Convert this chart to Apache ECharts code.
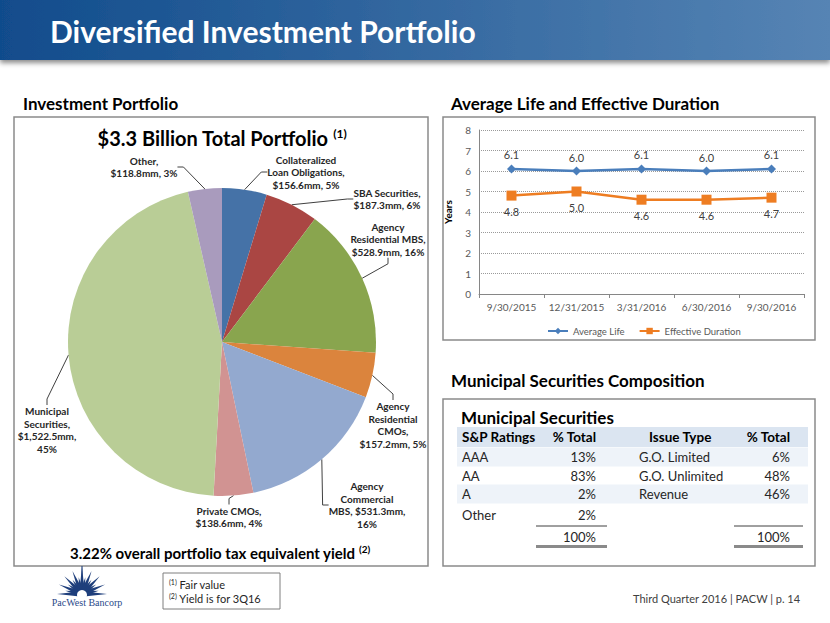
<!DOCTYPE html>
<html><head><meta charset="utf-8">
<script src="https://cdn.jsdelivr.net/npm/echarts@6/dist/echarts.min.js"></script>
<style>html,body{margin:0;padding:0;background:#fff}#c{width:830px;height:623px}</style>
</head><body><div id="c"></div>
<script>
// ---------- data ----------
const pieNames = ['Collateralized Loan Obligations', 'SBA Securities', 'Agency Residential MBS', 'Agency Residential CMOs', 'Agency Commercial MBS', 'Private CMOs', 'Municipal Securities', 'Other'];
const pieValues = [156.6, 187.3, 528.9, 157.2, 531.3, 138.6, 1522.5, 118.8];
const piePct = [5, 6, 16, 5, 16, 4, 45, 3];
const pieLabelTemplates = [
  'Collateralized\nLoan Obligations,\n{v}, {p}',
  'SBA Securities,\n{v}, {p}',
  'Agency\nResidential MBS,\n{v}, {p}',
  'Agency\nResidential\nCMOs,\n{v}, {p}',
  'Agency\nCommercial\nMBS, {v},\n{p}',
  'Private CMOs,\n{v}, {p}',
  'Municipal\nSecurities,\n{v},\n{p}',
  'Other,\n{v}, {p}'
];
const dates = ['9/30/2015', '12/31/2015', '3/31/2016', '6/30/2016', '9/30/2016'];
const averageLife = [6.1, 6.0, 6.1, 6.0, 6.1];
const effectiveDuration = [4.8, 5.0, 4.6, 4.6, 4.7];
const ratings = ['AAA', 'AA', 'A', 'Other'];
const ratingPct = [13, 83, 2, 2];
const issueTypes = ['G.O. Limited', 'G.O. Unlimited', 'Revenue'];
const issuePct = [6, 48, 46];

// ---------- styles ----------
const FONT = 'Lato, "Open Sans", sans-serif';
const pieColors = ['#4572a7', '#aa4643', '#89a54e', '#db843d', '#93a9cf', '#d19392', '#b9cd96', '#a99bbd'];
// label anchor (centre) positions for the pie labels
const pieLabelPos = [[306, 172], [387, 199], [388, 239], [393, 425], [367, 505], [229, 517], [47, 430], [144, 167]];

function fmtMoney(v) {
  return '$' + v.toLocaleString('en-US', {minimumFractionDigits: 1, maximumFractionDigits: 1}) + 'mm';
}

const g = [];
// title bar
g.push({type: 'rect', shape: {x: 0, y: 0, width: 830, height: 60},
  style: {fill: new echarts.graphic.LinearGradient(0, 0, 1, 0, [{offset: 0, color: '#114c8c'}, {offset: 1, color: '#5684b4'}]),
    shadowBlur: 5, shadowColor: 'rgba(0,0,0,0.45)', shadowOffsetY: 3}, z: 1});
g.push({type: 'text', x: 50, y: 31, z: 2, style: {text: 'Diversified Investment Portfolio', fill: '#fff', font: 'bold 30px ' + FONT, verticalAlign: 'middle'}});
// headings
[['Investment Portfolio', 23, 103], ['Average Life and Effective Duration', 451, 103], ['Municipal Securities Composition', 451, 380]].forEach(h => {
  g.push({type: 'text', x: h[1], y: h[2], style: {text: h[0], fill: '#000', font: 'bold 17px ' + FONT, verticalAlign: 'middle'}});
});
// boxes
[[14, 117, 414, 449], [443, 117, 372, 223], [443, 399, 372, 167]].forEach(b => {
  g.push({type: 'rect', shape: {x: b[0], y: b[1], width: b[2], height: b[3]}, style: {fill: 'none', stroke: '#8a8a8a', lineWidth: 1.5}, z: 0});
});
// pie title
g.push({type: 'text', x: 222, y: 138, style: {
  text: '{t|$3.3 Billion Total Portfolio }{s|(1)}', align: 'center', verticalAlign: 'middle',
  rich: {t: {font: 'bold 20px ' + FONT, fill: '#000'}, s: {font: 'bold 12px ' + FONT, fill: '#000', padding: [0, 0, 10, 0]}}}});
// yield text
g.push({type: 'text', x: 220, y: 553, style: {
  text: '{t|3.22% overall portfolio tax equivalent yield }{s|(2)}', align: 'center', verticalAlign: 'middle',
  rich: {t: {font: 'bold 15px ' + FONT, fill: '#000'}, s: {font: 'bold 10px ' + FONT, fill: '#000', padding: [0, 0, 8, 0]}}}});
// footnotes
g.push({type: 'rect', shape: {x: 163, y: 573, width: 117, height: 36}, style: {fill: 'none', stroke: '#7f7f7f', lineWidth: 1}});
[['(1)', ' Fair value', 584], ['(2)', ' Yield is for 3Q16', 598]].forEach(f => {
  g.push({type: 'text', x: 169, y: f[2], style: {text: '{s|' + f[0] + '}{t|' + f[1] + '}', verticalAlign: 'middle',
    rich: {t: {font: '11px ' + FONT, fill: '#262626'}, s: {font: '7px ' + FONT, fill: '#262626', padding: [0, 0, 5, 0]}}}});
});
// footer
g.push({type: 'text', x: 633, y: 598, style: {text: 'Third Quarter 2016 | PACW | p. 14', fill: '#404040', font: '11px ' + FONT, verticalAlign: 'middle'}});
// logo starburst
(function () {
  const cx = 82, cy = 594;
  for (let i = 0; i <= 16; i++) {
    const a = Math.PI + i * Math.PI / 16;
    const len = (i === 8) ? 28 : (i % 2 === 0 ? 25 : 17);
    const w = 2.8;
    const tipx = cx + Math.cos(a) * len, tipy = cy + Math.sin(a) * len;
    const px = -Math.sin(a) * w, py = Math.cos(a) * w;
    g.push({type: 'polygon', shape: {points: [[cx + px, cy + py], [cx - px, cy - py], [tipx, tipy]]}, style: {fill: '#1f3f7c'}});
  }
  g.push({type: 'line', shape: {x1: 82, y1: 566, x2: 82, y2: 580}, style: {stroke: '#1f3f7c', lineWidth: 1}});
  g.push({type: 'circle', shape: {cx: cx, cy: cy + 1, r: 5}, style: {fill: '#fff'}});
  g.push({type: 'text', x: 87, y: 602, style: {text: 'PacWest Bancorp', fill: '#2b4a8a', font: '10px "Liberation Serif", "DejaVu Serif", serif', align: 'center', verticalAlign: 'middle'}});
})();
// table
const T = {left: 462, pct1: 596, issue: 639, pct2: 790, rowY: [457, 476, 494, 515], totalY: 537};
g.push({type: 'text', x: 461, y: 417, style: {text: 'Municipal Securities', fill: '#000', font: 'bold 17px ' + FONT, verticalAlign: 'middle'}});
g.push({type: 'rect', shape: {x: 457, y: 427, width: 351, height: 20}, style: {fill: '#dbe5f1'}});
[0, 2].forEach(i => g.push({type: 'rect', shape: {x: 457, y: T.rowY[i] - 9.5, width: 351, height: 19}, style: {fill: '#eef3f9'}}));
[['S&P Ratings', T.left, 'left'], ['% Total', T.pct1, 'right'], ['Issue Type', 649, 'left'], ['% Total', T.pct2, 'right']].forEach(h => {
  g.push({type: 'text', x: h[1], y: 437, style: {text: h[0], align: h[2], verticalAlign: 'middle', fill: '#000', font: 'bold 13.5px ' + FONT}});
});
const cellFont = '13px ' + FONT;
ratings.forEach((r, i) => {
  g.push({type: 'text', x: T.left, y: T.rowY[i], style: {text: r, fill: '#262626', font: cellFont, verticalAlign: 'middle'}});
  g.push({type: 'text', x: T.pct1, y: T.rowY[i], style: {text: ratingPct[i] + '%', fill: '#262626', font: cellFont, align: 'right', verticalAlign: 'middle'}});
});
issueTypes.forEach((r, i) => {
  g.push({type: 'text', x: T.issue, y: T.rowY[i], style: {text: r, fill: '#262626', font: cellFont, verticalAlign: 'middle'}});
  g.push({type: 'text', x: T.pct2, y: T.rowY[i], style: {text: issuePct[i] + '%', fill: '#262626', font: cellFont, align: 'right', verticalAlign: 'middle'}});
});
const sum = a => a.reduce((s, v) => s + v, 0);
g.push({type: 'text', x: T.pct1, y: T.totalY, style: {text: sum(ratingPct) + '%', fill: '#262626', font: cellFont, align: 'right', verticalAlign: 'middle'}});
g.push({type: 'text', x: T.pct2, y: T.totalY, style: {text: sum(issuePct) + '%', fill: '#262626', font: cellFont, align: 'right', verticalAlign: 'middle'}});
[[536, 607], [734, 803]].forEach(s => {
  g.push({type: 'line', shape: {x1: s[0], y1: 526, x2: s[1], y2: 526}, style: {stroke: '#404040', lineWidth: 1}});
  g.push({type: 'line', shape: {x1: s[0], y1: 546.5, x2: s[1], y2: 546.5}, style: {stroke: '#8a8a8a', lineWidth: 3}});
});

const chart = echarts.init(document.getElementById('c'), null, {renderer: 'svg', width: 830, height: 623});
chart.setOption({
  animation: false,
  backgroundColor: '#fff',
  textStyle: {fontFamily: FONT},
  graphic: {elements: g},
  legend: {
    left: 542, top: 321, itemWidth: 20, itemHeight: 8, itemGap: 14,
    textStyle: {fontSize: 9.5, color: '#595959', fontFamily: FONT},
    data: ['Average Life', 'Effective Duration']
  },
  grid: {left: 479, top: 130, width: 325, height: 164, containLabel: false},
  xAxis: {
    type: 'category', data: dates, boundaryGap: true,
    axisLine: {lineStyle: {color: '#868686'}},
    axisTick: {show: true, length: 4, lineStyle: {color: '#868686'}},
    axisLabel: {fontSize: 10, color: '#595959', margin: 8, interval: 0}
  },
  yAxis: {
    type: 'value', min: 0, max: 8, interval: 1,
    name: 'Years', nameLocation: 'middle', nameGap: 26, nameRotate: 90,
    nameTextStyle: {fontSize: 10, fontWeight: 'bold', color: '#000'},
    axisLine: {show: true, lineStyle: {color: '#868686'}},
    axisTick: {show: false},
    axisLabel: {fontSize: 10, color: '#595959', margin: 8},
    splitLine: {lineStyle: {color: '#9a9a9a', type: [1, 1], width: 1}}
  },
  series: [
    {
      type: 'pie', center: [222, 342], radius: 154, startAngle: 90, clockwise: true,
      data: pieNames.map((n, i) => ({name: n, value: pieValues[i], itemStyle: {color: pieColors[i]}})),
      label: {
        show: true, position: 'outside', fontSize: 10, fontWeight: 'bold', color: '#262626', lineHeight: 12.5, overflow: 'none',
        formatter: p => pieLabelTemplates[p.dataIndex].replace('{v}', fmtMoney(p.value)).replace('{p}', piePct[p.dataIndex] + '%')
      },
      labelLine: {show: true, length: 8, length2: 6, lineStyle: {color: '#404040', width: 1}},
      labelLayout: p => ({x: pieLabelPos[p.dataIndex][0], y: pieLabelPos[p.dataIndex][1], align: 'center', verticalAlign: 'middle'}),
      emphasis: {disabled: true}
    },
    {
      name: 'Average Life', type: 'line', data: averageLife,
      color: '#4a7ebb', lineStyle: {width: 2.5}, symbol: 'diamond', symbolSize: 9,
      label: {show: true, position: 'top', distance: 4, fontSize: 11, color: '#404040', formatter: p => p.value.toFixed(1)}
    },
    {
      name: 'Effective Duration', type: 'line', data: effectiveDuration,
      color: '#ee7d22', lineStyle: {width: 2.5}, symbol: 'rect', symbolSize: 10,
      label: {show: true, position: 'bottom', distance: 5, fontSize: 11, color: '#404040', formatter: p => p.value.toFixed(1)}
    }
  ]
});
</script></body></html>
